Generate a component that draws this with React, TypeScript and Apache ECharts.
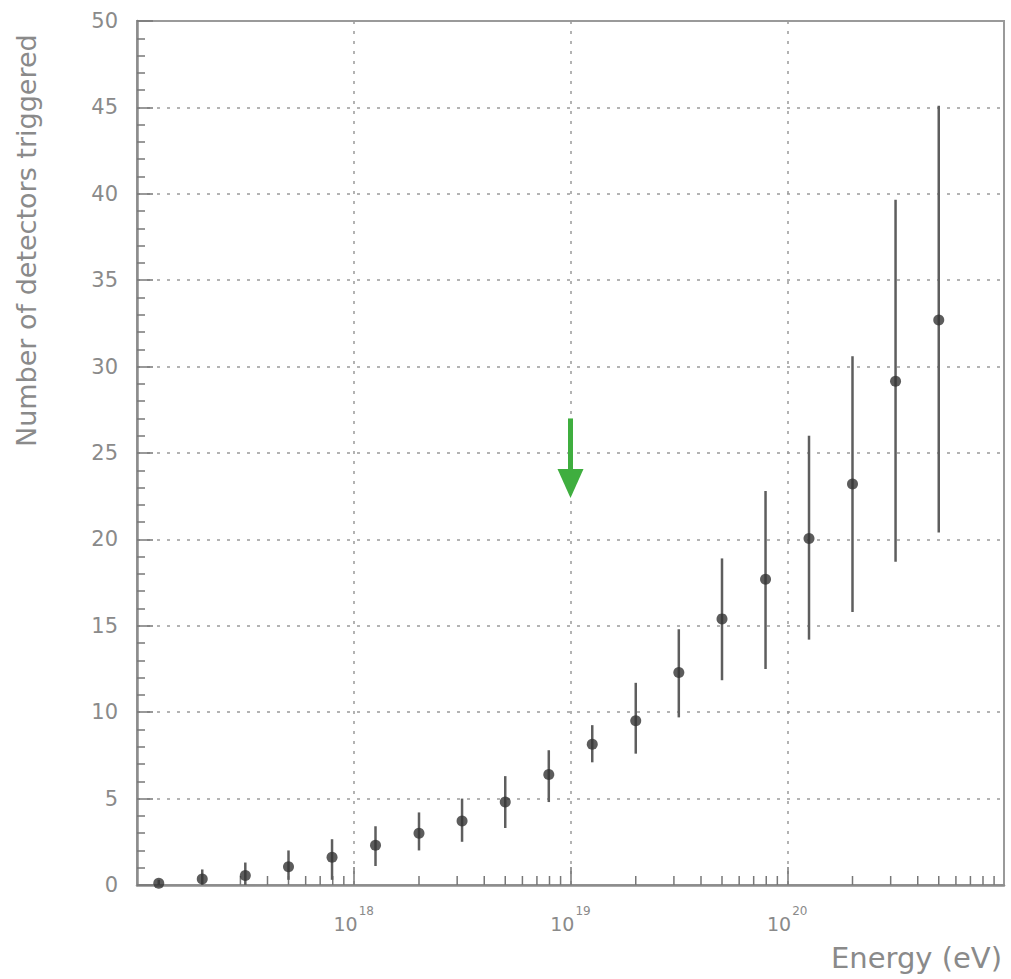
import React, { useEffect, useRef } from "react";
import * as echarts from "echarts";

// Energy bin centres (eV)
const energies = [
  1.26e17, 2.0e17, 3.16e17, 5.0e17, 7.94e17,
  1.26e18, 2.0e18, 3.16e18, 5.0e18, 7.94e18,
  1.26e19, 2.0e19, 3.16e19, 5.0e19, 7.94e19,
  1.26e20, 2.0e20, 3.16e20, 5.0e20,
];
// Mean number of detectors triggered
const meanCounts = [
  0.1, 0.35, 0.55, 1.05, 1.6,
  2.3, 3.0, 3.7, 4.8, 6.4,
  8.15, 9.5, 12.3, 15.4, 17.7,
  20.05, 23.2, 29.15, 32.7,
];
// Error bar extents
const errLow = [
  0.0, 0.0, 0.0, 0.3, 0.3,
  1.1, 2.0, 2.5, 3.3, 4.8,
  7.1, 7.6, 9.7, 11.85, 12.5,
  14.2, 15.8, 18.7, 20.4,
];
const errHigh = [
  0.3, 0.9, 1.3, 2.0, 2.65,
  3.4, 4.2, 5.0, 6.3, 7.8,
  9.25, 11.7, 14.8, 18.9, 22.8,
  26.0, 30.6, 39.65, 45.1,
];
// Green arrow marker
const arrowEnergy = 1e19;
const arrowFrom = 27.0;
const arrowTo = 22.4;
// Minor log ticks
const minorMantissas = [2, 3, 4, 5, 6, 7, 8, 9];
const decades = [1e17, 1e18, 1e19, 1e20];

const xTitle = "Energy (eV)";
const yTitle = "Number of detectors triggered";

export default function App() {
  const ref = useRef<HTMLDivElement>(null);
  useEffect(() => {
    document.body.style.margin = "0";
    if (!ref.current) return;
    const chart = echarts.init(ref.current, undefined, { renderer: "svg" });
    const minorTicks: number[][] = [];
    decades.forEach((d) => minorMantissas.forEach((m) => minorTicks.push([d * m, 0])));
    const errData = energies.map((e, i) => [e, errLow[i], errHigh[i]]);
    const pts = energies.map((e, i) => [e, meanCounts[i]]);
    const textColor = "#8a8a8a";
    const axisColor = "#8c8c8c";
    chart.setOption({
      animation: false,
      backgroundColor: "#ffffff",
      grid: {
        left: 137,
        right: 7,
        top: 21,
        bottom: 94,
        show: true,
        borderColor: "#9a9a9a",
        borderWidth: 2,
      },
      xAxis: {
        type: "log",
        logBase: 10,
        min: 1e17,
        max: 1e21,
        axisLine: { lineStyle: { color: axisColor, width: 2.5 } },
        axisTick: { inside: true, length: 18, lineStyle: { color: "#777", width: 1.5 } },
        splitLine: { show: true, lineStyle: { color: "#9a9a9a", type: [3, 7], width: 1.5 } },
        axisLabel: {
          showMinLabel: false,
          showMaxLabel: false,
          margin: 16,
          formatter: (v: number) => "{b|10}{s|" + Math.round(Math.log10(v)) + "}",
          rich: {
            b: { fontSize: 19, color: textColor, fontFamily: "DejaVu Sans", padding: [13, 0, 0, 0] },
            s: { fontSize: 12, color: textColor, fontFamily: "DejaVu Sans", padding: [0, 0, 12, 1] },
          },
        },
      },
      yAxis: {
        type: "value",
        min: 0,
        max: 50,
        interval: 5,
        axisLine: { show: true, lineStyle: { color: axisColor, width: 2.5 } },
        axisTick: { show: true, inside: true, length: 16, lineStyle: { color: "#777", width: 1.5 } },
        minorTick: { show: true, splitNumber: 5, length: 8, lineStyle: { color: "#777", width: 1.5 } },
        splitLine: { show: true, lineStyle: { color: "#9a9a9a", type: [3, 7], width: 1.5 } },
        axisLabel: { margin: 19, fontSize: 21, color: textColor, fontFamily: "DejaVu Sans" },
      },
      graphic: [
        {
          type: "text",
          x: 26,
          y: 447,
          rotation: Math.PI / 2,
          style: {
            text: yTitle,
            fontSize: 27,
            fontFamily: "DejaVu Sans",
            fill: textColor,
            align: "left",
            verticalAlign: "middle",
          },
        },
        {
          type: "text",
          x: 1002,
          y: 958,
          style: {
            text: xTitle,
            fontSize: 29,
            fontFamily: "DejaVu Sans",
            fill: textColor,
            align: "right",
            verticalAlign: "middle",
          },
        },
      ],
      series: [
        {
          type: "custom",
          name: "minorTicks",
          data: minorTicks,
          silent: true,
          renderItem: (params: any, api: any) => {
            const p = api.coord([api.value(0), 0]);
            return {
              type: "line",
              shape: { x1: p[0], y1: p[1], x2: p[0], y2: p[1] - 9 },
              style: { stroke: "#777", lineWidth: 1.5 },
            };
          },
        },
        {
          type: "custom",
          name: "errors",
          data: errData,
          silent: true,
          renderItem: (params: any, api: any) => {
            const lo = api.coord([api.value(0), api.value(1)]);
            const hi = api.coord([api.value(0), api.value(2)]);
            return {
              type: "line",
              shape: { x1: lo[0], y1: lo[1], x2: hi[0], y2: hi[1] },
              style: { stroke: "#5e5e5e", lineWidth: 2.5 },
            };
          },
        },
        {
          type: "scatter",
          data: pts,
          symbol: "circle",
          symbolSize: 11,
          itemStyle: { color: "#333333" },
        },
        {
          type: "custom",
          name: "arrow",
          data: [[arrowEnergy, arrowFrom, arrowTo]],
          silent: true,
          renderItem: (params: any, api: any) => {
            const top = api.coord([api.value(0), api.value(1)]);
            const tip = api.coord([api.value(0), api.value(2)]);
            const headH = 29;
            const headW = 13;
            return {
              type: "group",
              children: [
                {
                  type: "line",
                  shape: { x1: top[0], y1: top[1], x2: tip[0], y2: tip[1] - headH + 2 },
                  style: { stroke: "#3fae3f", lineWidth: 5 },
                },
                {
                  type: "polygon",
                  shape: {
                    points: [
                      [tip[0] - headW, tip[1] - headH],
                      [tip[0] + headW, tip[1] - headH],
                      [tip[0], tip[1]],
                    ],
                  },
                  style: { fill: "#3fae3f" },
                },
              ],
            };
          },
        },
      ],
    });
    return () => chart.dispose();
  }, []);
  return <div ref={ref} style={{ width: 1011, height: 979 }} />;
}
